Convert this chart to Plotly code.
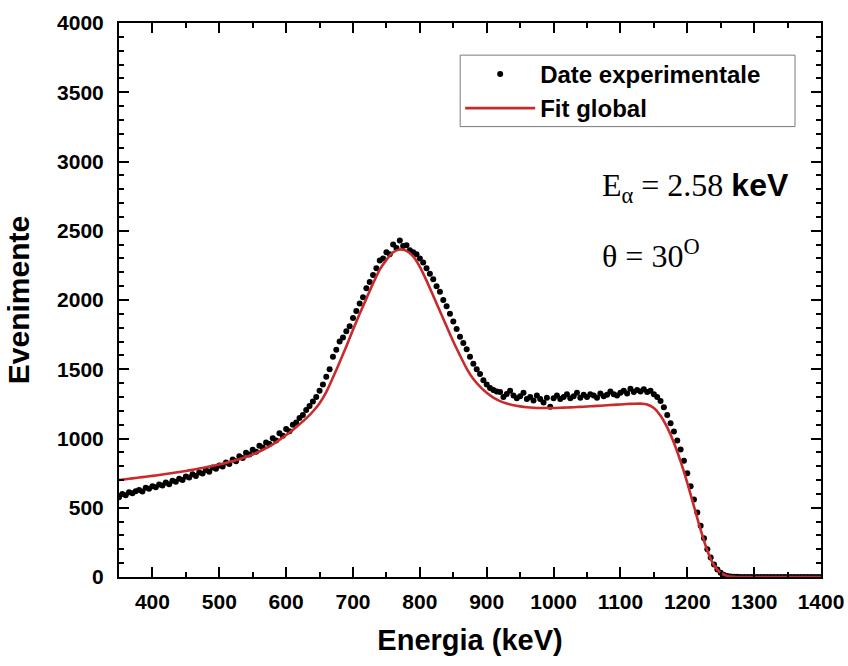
import plotly.graph_objects as go

# Measured spectrum: energy grid (keV) and counts per channel
energy_data = list(range(350, 1401, 5))
counts_data = [
    575, 600, 590, 612, 605, 620, 628, 618, 645, 638,
    655, 648, 668, 660, 682, 670, 695, 688, 710, 700,
    725, 718, 742, 730, 755, 748, 772, 760, 790, 782,
    805, 798, 826, 815, 848, 835, 872, 860, 898, 885,
    918, 905, 948, 935, 972, 960, 1002, 985, 1038, 1020,
    1068, 1052, 1100, 1115, 1148, 1170, 1205, 1235, 1268, 1300,
    1345, 1390, 1445, 1500, 1590, 1640, 1700, 1730, 1775, 1810,
    1870, 1920, 1975, 2020, 2085, 2130, 2180, 2230, 2285, 2300,
    2345, 2330, 2400, 2375, 2430, 2390, 2395, 2360, 2345, 2330,
    2300, 2270, 2230, 2190, 2150, 2100, 2060, 2000, 1955, 1900,
    1845, 1790, 1735, 1690, 1645, 1590, 1540, 1500, 1465, 1420,
    1390, 1365, 1350, 1340, 1335, 1300, 1322, 1345, 1310, 1290,
    1305, 1330, 1285, 1300, 1275, 1310, 1285, 1260, 1295, 1230,
    1290, 1310, 1285, 1300, 1320, 1290, 1305, 1330, 1295, 1315,
    1300, 1320, 1310, 1295, 1325, 1305, 1315, 1340, 1320, 1310,
    1330, 1345, 1325, 1360, 1335, 1350, 1340, 1355, 1335, 1345,
    1320, 1300, 1270, 1225, 1170, 1110, 1050, 985, 920, 840,
    750, 655, 560, 465, 370, 280, 200, 140, 90, 55,
    30, 15, 8, 4, 2, 1, 0, 0, 0, 0,
    0, 0, 0, 0, 0, 0, 0, 0, 0, 0,
    0, 0, 0, 0, 0, 0, 0, 0, 0, 0,
    0,
]

# Global fit curve sampled every 10 keV
energy_fit = list(range(350, 1401, 10))
counts_fit = [
    700, 706, 712, 718, 724, 730, 737, 744, 751, 758,
    766, 774, 783, 792, 802, 812, 824, 837, 851, 867,
    885, 906, 930, 958, 990, 1025, 1062, 1102, 1145, 1195,
    1255, 1335, 1440, 1550, 1665, 1785, 1900, 2010, 2120, 2220,
    2290, 2345, 2365, 2355, 2315, 2240, 2140, 2030, 1920, 1810,
    1700, 1600, 1505, 1430, 1375, 1330, 1295, 1270, 1252, 1240,
    1232, 1226, 1222, 1220, 1220, 1220, 1222, 1224, 1226, 1228,
    1231, 1234, 1237, 1240, 1243, 1246, 1249, 1251, 1252, 1245,
    1220, 1165, 1080, 970, 835, 680, 510, 340, 190, 85,
    30, 8, 2, 0, 0, 0, 0, 0, 0, 0,
    0, 0, 0, 0, 0, 0,
]

x_ticks = [400, 500, 600, 700, 800, 900, 1000, 1100, 1200, 1300, 1400]
y_ticks = [0, 500, 1000, 1500, 2000, 2500, 3000, 3500, 4000]

SANS = "Arial, Liberation Sans, sans-serif"
SERIF = "Times New Roman, Liberation Serif, serif"

fig = go.Figure()
fig.add_trace(go.Scatter(
    x=energy_data, y=counts_data, mode="markers", name="Date experimentale",
    marker=dict(color="black", size=6),
))
fig.add_trace(go.Scatter(
    x=energy_fit, y=counts_fit, mode="lines", name="Fit global",
    line=dict(color="#c92a2c", width=2.6, shape="spline", smoothing=0.6),
))

axis_common = dict(
    showline=True, linecolor="black", linewidth=2, mirror="ticks",
    ticks="inside", ticklen=10, tickwidth=2, tickcolor="black",
    showgrid=False, zeroline=False, automargin=False,
    tickfont=dict(family=SANS, size=21, color="black", weight="bold"),
)

fig.update_xaxes(
    range=[350, 1400], tickvals=x_ticks, ticklabelstandoff=5,
    minor=dict(ticks="inside", ticklen=5, tickwidth=2, tickcolor="black", dtick=50, showgrid=False),
    title=dict(text="Energia (keV)", font=dict(family=SANS, size=29, color="black", weight="bold"), standoff=17),
    **axis_common,
)
fig.update_yaxes(
    range=[0, 4000], tickvals=y_ticks, ticklabelstandoff=9,
    minor=dict(ticks="inside", ticklen=5, tickwidth=2, tickcolor="black", dtick=100, showgrid=False),
    title=dict(text="Evenimente", font=dict(family=SANS, size=30, color="black", weight="bold"), standoff=19),
    **axis_common,
)

fig.add_annotation(
    xref="paper", yref="paper", x=0.685, y=0.703, xanchor="left", yanchor="middle",
    text="E<sub>α</sub> = 2.58 <span style='font-family:Arial, Liberation Sans, sans-serif'><b>keV</b></span>",
    showarrow=False, font=dict(family=SERIF, size=32, color="black"),
)
fig.add_annotation(
    xref="paper", yref="paper", x=0.685, y=0.583, xanchor="left", yanchor="middle",
    text="θ = 30<sup>O</sup>",
    showarrow=False, font=dict(family=SERIF, size=32, color="black"),
)

# Frame around the legend entries
fig.add_shape(
    type="rect", xref="paper", yref="paper",
    x0=0.486, x1=0.963, y0=0.813, y1=0.942,
    line=dict(color="#7a7a7a", width=1), fillcolor="white", layer="below",
)

fig.update_layout(
    width=848, height=666,
    margin=dict(l=119, r=27, t=23, b=89),
    paper_bgcolor="white", plot_bgcolor="white",
    showlegend=True,
    legend=dict(
        x=0.486, y=0.948, xanchor="left", yanchor="top",
        bgcolor="rgba(0,0,0,0)", borderwidth=0,
        font=dict(family=SANS, size=24, color="black", weight="bold"),
        itemwidth=70, tracegroupgap=0,
    ),
)

fig.write_html("out.html")
